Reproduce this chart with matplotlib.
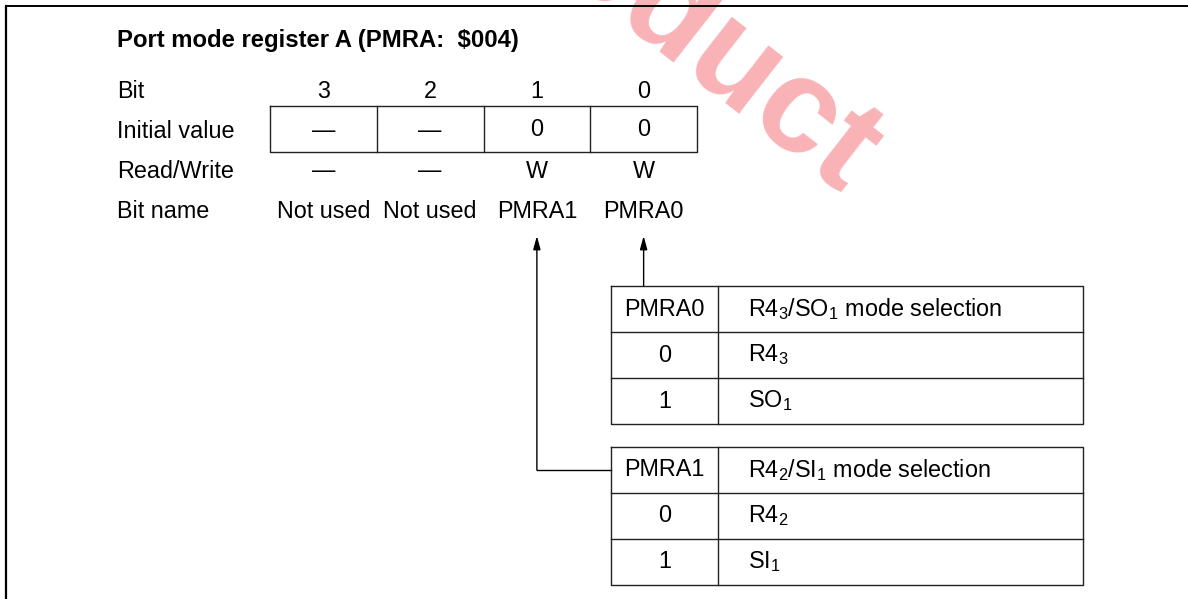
#!/usr/bin/env python3
"""port mode register A (PMRA) bit diagram"""
import matplotlib
matplotlib.use('Agg')
import matplotlib.pyplot as plt

plt.rcParams['font.family'] = ['Liberation Sans', 'DejaVu Sans']
plt.rcParams['mathtext.default'] = 'regular'

title = 'Port mode register A (PMRA:  $004)'
row_labels = ['Bit', 'Initial value', 'Read/Write', 'Bit name']
bits = ['3', '2', '1', '0']
initial = ['\u2014', '\u2014', '0', '0']
read_write = ['\u2014', '\u2014', 'W', 'W']
bit_names = ['Not used', 'Not used', 'PMRA1', 'PMRA0']

tables = [
    ['PMRA0', 'R4$_3$/SO$_1$ mode selection',
     '0', 'R4$_3$', '1', 'SO$_1$'],
    ['PMRA1', 'R4$_2$/SI$_1$ mode selection',
     '0', 'R4$_2$', '1', 'SI$_1$'],
]
watermark = 'Product'

W, H = 1188, 599
FS = 16.8
fig = plt.figure(figsize=(W / 100, H / 100), dpi=100)
ax = fig.add_axes([0, 0, 1, 1])
ax.set_xlim(0, W)
ax.set_ylim(H, 0)
ax.axis('off')

# frame (top and left only)
ax.plot([6, W], [6, 6], color='black', lw=1.4)
ax.plot([6, 6], [6, H], color='black', lw=1.6)

# watermark, mostly running off the top edge
ax.text(840, 200, watermark, rotation=-38, rotation_mode='anchor',
        ha='right', va='baseline', fontsize=98, fontweight='bold',
        color='#f9b3b6', zorder=0)

ax.text(117, 40, title, fontsize=17.2, fontweight='bold', va='center')

rows_y = [91, 131, 171, 211]
for lab, y in zip(row_labels, rows_y):
    ax.text(117, y, lab, fontsize=FS, va='center')

# register box
bx0, bx1, by0, by1 = 270, 697, 106, 152
cw = (bx1 - bx0) / len(bits)
lc = '#222222'
ax.plot([bx0, bx1, bx1, bx0, bx0], [by0, by0, by1, by1, by0], color=lc, lw=1)
for i in range(1, len(bits)):
    ax.plot([bx0 + i * cw] * 2, [by0, by1], color=lc, lw=1)

centers = [bx0 + cw * (i + 0.5) for i in range(len(bits))]
for i, cx in enumerate(centers):
    ax.text(cx, 92, bits[i], fontsize=FS, ha='center', va='center')
    ax.text(cx, 130, initial[i], fontsize=FS, ha='center', va='center')
    ax.text(cx, 171, read_write[i], fontsize=FS, ha='center', va='center')
    ax.text(cx, 212, bit_names[i], fontsize=FS, ha='center', va='center')

# selection tables
tx0, tdiv, tx1 = 611, 718, 1083
tops = [286, 447]
rh = 46
for t, top in zip(tables, tops):
    ys = [top + k * rh for k in range(4)]
    ax.plot([tx0, tx1, tx1, tx0, tx0], [ys[0], ys[0], ys[3], ys[3], ys[0]],
            color=lc, lw=1)
    for y in ys[1:3]:
        ax.plot([tx0, tx1], [y, y], color=lc, lw=1)
    ax.plot([tdiv, tdiv], [ys[0], ys[3]], color=lc, lw=1)
    for k in range(3):
        yc = ys[k] + rh / 2
        ax.text((tx0 + tdiv) / 2, yc, t[2 * k], fontsize=FS,
                ha='center', va='center')
        ax.text(748, yc, t[2 * k + 1], fontsize=FS, ha='left', va='center')

# arrows from the tables up to the bit names
arrow = dict(arrowstyle='-|>,head_length=0.8,head_width=0.22', lw=1,
             color='black', shrinkA=0, shrinkB=0)
ax.annotate('', xy=(centers[3], 236), xytext=(centers[3], tops[0]),
            arrowprops=arrow)
link_y = tops[1] + rh / 2
ax.plot([centers[2], tx0], [link_y, link_y], color='black', lw=1)
ax.annotate('', xy=(centers[2], 236), xytext=(centers[2], link_y),
            arrowprops=arrow)

fig.savefig('out.png', dpi=100)
